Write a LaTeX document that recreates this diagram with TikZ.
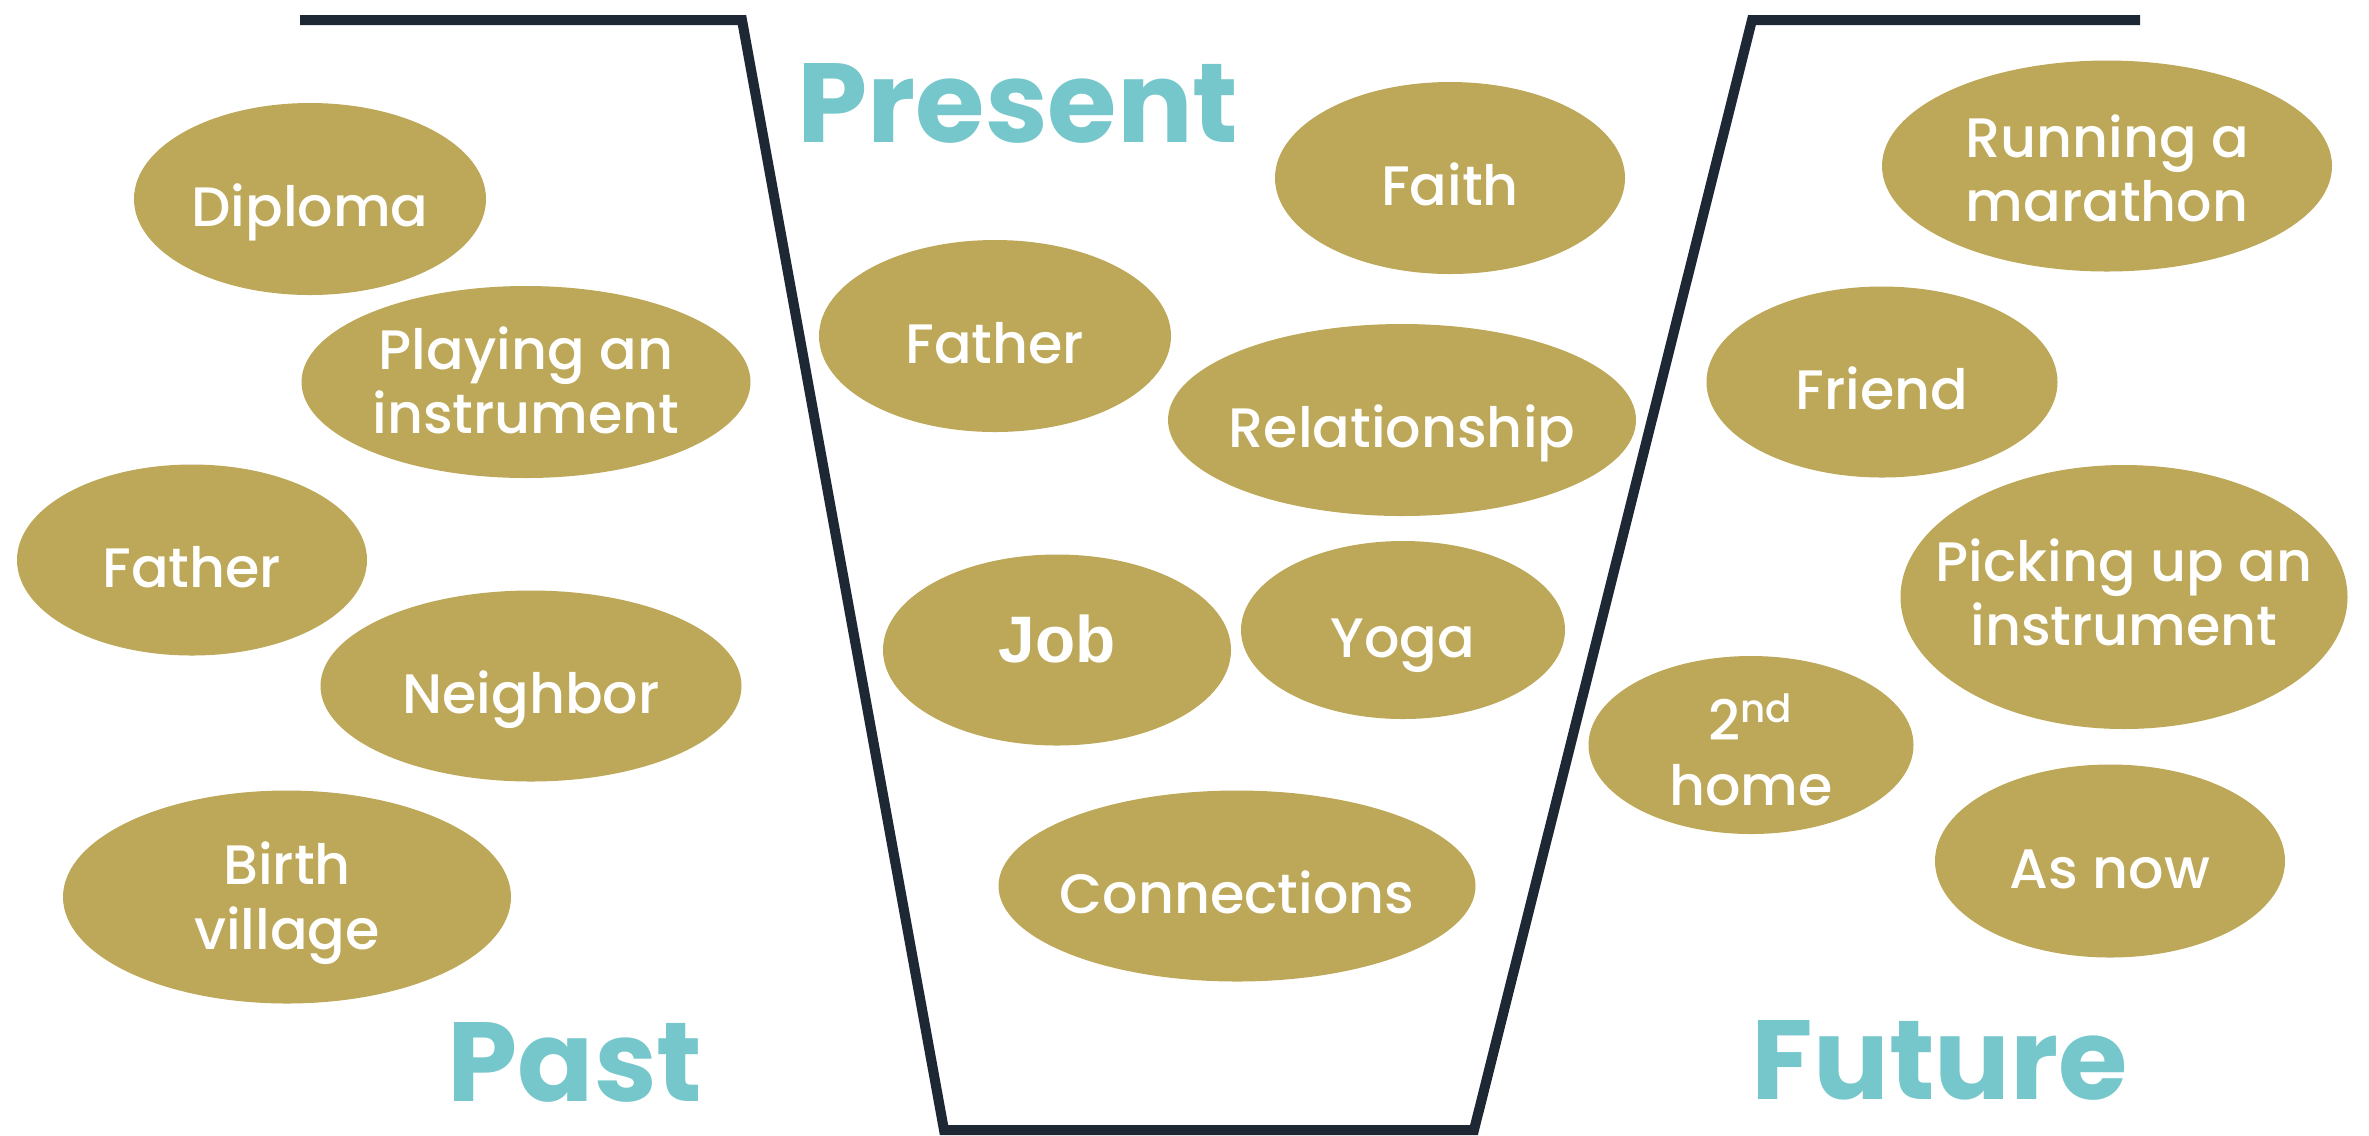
\documentclass[tikz,border=0pt]{standalone}
\usepackage{fontspec}
\setmainfont{Poppins}
\newfontfamily\medfont{Poppins Medium}
\newfontfamily\jobfont{Liberation Sans}
\usetikzlibrary{shapes.geometric}
\definecolor{gold}{HTML}{BCA858}
\definecolor{teal2}{HTML}{76C7CB}
\definecolor{navy}{HTML}{1E2835}
\tikzset{
  blob/.style={ellipse, fill=gold, inner sep=0pt},
  lbl/.style={inner sep=0pt, text=white, align=center,
    font=\medfont\fontsize{15.8}{18.35}\selectfont},
  oneline/.style={text height=0.54cm, text depth=0pt},
  era/.style={text=teal2, anchor=base, inner sep=0pt,
    font=\fontsize{32}{36}\selectfont\bfseries},
  frame/.style={draw=navy, line width=0.1cm, line join=miter}
}
\newcommand\blob[5]{\node[blob, minimum width=#4*0.01cm, minimum height=#5*0.01cm] (#1) at (#2,#3) {};}
\begin{document}
\begin{tikzpicture}[x=0.01cm, y=-0.01cm]
\useasboundingbox (0,0) rectangle (2369,1135);
\coordinate (a) at (300,20);
\coordinate (b) at (742,20);
\coordinate (c) at (944,1130);
\coordinate (d) at (1474,1130);
\coordinate (e) at (1752,20);
\coordinate (f) at (2140,20);
\draw[frame] (a) -- (b) -- (c) -- (d) -- (e) -- (f);
% Past
\blob{diploma}{310}{199}{352}{192}
\node[lbl, oneline] (diploma-t) at (diploma) {Diploma};
\blob{playing}{526}{382}{449}{192}
\node[lbl] (playing-t) at ([yshift=0.5pt]playing.center) {Playing an\\instrument};
\blob{fatherL}{192}{560}{350}{191}
\node[lbl, oneline] (fatherL-t) at (fatherL) {Father};
\blob{neighbor}{531}{686}{421}{191}
\node[lbl, oneline] (neighbor-t) at (neighbor) {Neighbor};
\blob{birth}{287}{897}{448}{213}
\node[lbl] (birth-t) at ([yshift=-1.7pt]birth.center) {Birth\\village};
% Present
\blob{fatherM}{995}{336}{352}{192}
\node[lbl, oneline] (fatherM-t) at (fatherM) {Father};
\blob{faith}{1450}{178}{350}{192}
\node[lbl, oneline] (faith-t) at (faith) {Faith};
\blob{relation}{1402}{420}{468}{192}
\node[lbl, oneline] (relation-t) at (relation) {Relationship};
\blob{job}{1057}{650}{348}{191}
\node[lbl, text height=0.24cm, text depth=0pt, font=\jobfont\fontsize{18.7}{20}\selectfont\bfseries] (job-t) at (job) {Job};
\blob{yoga}{1403}{630}{324}{178}
\node[lbl, oneline] (yoga-t) at (yoga) {Yoga};
\blob{connect}{1237}{886}{477}{191}
\node[lbl, oneline] (connect-t) at (connect) {Connections};
% Future
\blob{running}{2107}{166}{450}{211}
\node[lbl] (running-t) at ([yshift=-0.6pt]running.center) {Running a\\marathon};
\blob{friend}{1882}{382}{351}{191}
\node[lbl, oneline] (friend-t) at (friend) {Friend};
\blob{picking}{2124}{597}{447}{264}
\node[lbl] (picking-t) at ([yshift=1.3pt]picking.center) {Picking up an\\instrument};
\blob{home}{1751}{745}{325}{178}
\node[lbl] (home-t) at ([yshift=-1.3pt]home.center) {2\textsuperscript{nd}\\home};
\blob{asnow}{2110}{861}{350}{193}
\node[lbl, oneline] (asnow-t) at (asnow) {As now};
% Labels
\node[era] (present) at (1018,142) {Present};
\node[era] (past) at (575,1101) {Past};
\node[era] (future) at (1940,1099) {Future};
\end{tikzpicture}
\end{document}
